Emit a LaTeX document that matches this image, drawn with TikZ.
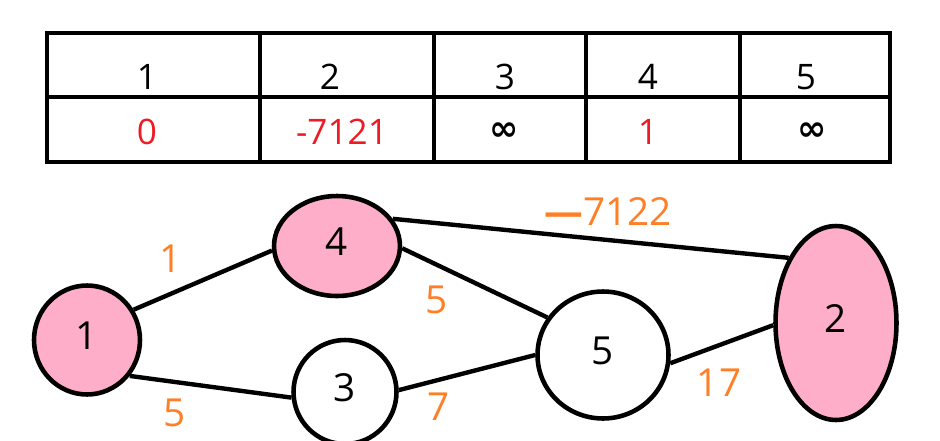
\documentclass[tikz,border=0pt]{standalone}
\usepackage{fontspec}
\setmainfont{Open Sans}
\newfontfamily\symf{DejaVu Sans}
\usetikzlibrary{shapes.geometric}

\definecolor{rozov}{RGB}{255,174,201}
\definecolor{oranzh}{RGB}{255,127,39}
\definecolor{krasn}{RGB}{237,28,36}

\newcommand{\tabf}{\fontsize{20}{24}\selectfont}
\newcommand{\grf}{\fontsize{22}{26}\selectfont}
\newcommand{\beskon}{{\symf\bfseries ∞}}

\tikzset{
  setka/.style={line width=2.6pt},
  yach/.style={inner sep=0pt,font=\tabf},
  vershina/.style={ellipse,draw,line width=2.6pt,inner sep=0pt,
    text height=1.1em,text depth=0pt,font=\grf},
  rebro/.style={line width=2.5pt},
  ves/.style={inner sep=0pt,text=oranzh,font=\grf},
}

\begin{document}
\begin{tikzpicture}[x=0.02cm,y=-0.02cm]
\useasboundingbox (0,0) rectangle (940,440);
\clip (0,0) rectangle (940,440);

%=== Таблица расстояний ===
\draw[setka] (47,33) rectangle (890,162);
\draw[setka] (47,97) -- (890,97);
\foreach \xl in {260,434,586,740}{
  \draw[setka] (\xl,33) -- (\xl,162);
}
\foreach \i/\xh/\xd/\val/\col in {1/147/147/0/krasn, 2/330/342/-7121/krasn,
    3/505/504/\beskon/black, 4/648/648/1/krasn, 5/806/812/\beskon/black}{
  \node[yach] (h\i) at (\xh,77) {\i};
  \node[yach,text=\col] (d\i) at (\xd,132) {\val};
}

%=== Граф ===
\node[vershina,fill=rozov,minimum width=2.12cm,minimum height=2.18cm] (v1) at (87,340) {1};
\node[vershina,fill=rozov,minimum width=2.52cm,minimum height=2.0cm] (v4) at (337,246) {4};
\node[vershina,fill=white,minimum width=2.06cm,minimum height=2.08cm] (v3) at (345,392) {3};
\node[vershina,fill=white,minimum width=2.62cm,minimum height=2.54cm] (v5) at (603,355) {5};
\node[vershina,fill=rozov,minimum width=2.42cm,minimum height=3.88cm] (v2) at (836,323) {2};

% рёбра
\draw[rebro] (v1.33) -- (v4.184);
\draw[rebro] (v1.-40) -- (v3.186);
\draw[rebro] (v4.26) -- (v2.126);
\draw[rebro] (v4.-2) -- (v5.146);
\draw[rebro] (v3.2) -- (v5.180);
\draw[rebro] (v5.-7) -- (v2.182);

% веса
\node[ves] (w14) at (171,259) {1};
\node[ves] (w13) at (175,413) {5};
\node[ves] (w45) at (437,300) {5};
\node[ves] (w35) at (439,407) {7};
\node[ves] (w52) at (719,383) {17};
\node[ves] (w42) at (608,211) {\textbf{—}7122};

\end{tikzpicture}
\end{document}
